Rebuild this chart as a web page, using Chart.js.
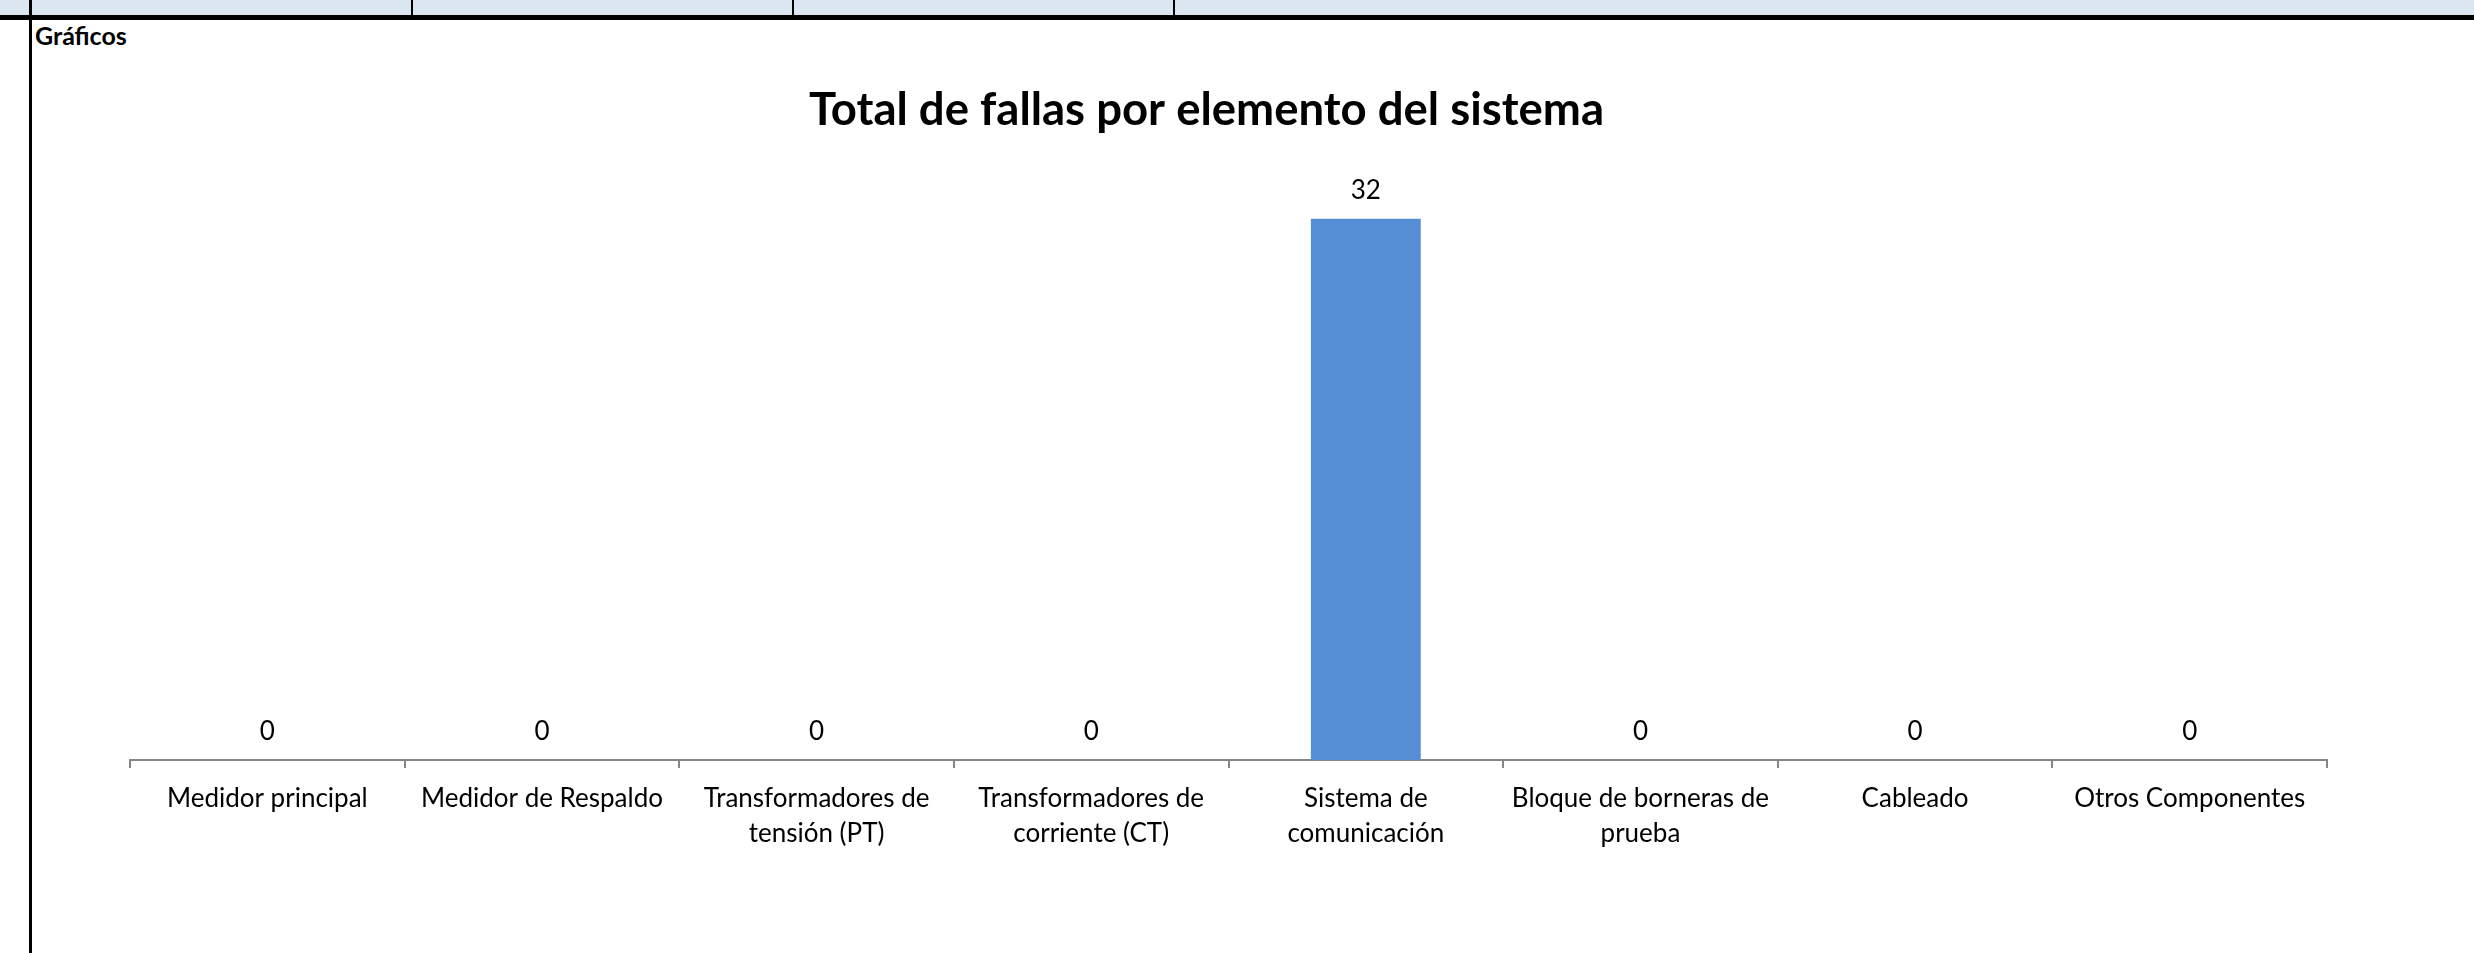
<!DOCTYPE html>
<html>
<head>
<meta charset="utf-8">
<script src="https://cdn.jsdelivr.net/npm/chart.js@4.4.1/dist/chart.umd.min.js"></script>
<style>
  html, body { margin: 0; padding: 0; background: #ffffff; width: 2474px; height: 953px; overflow: hidden; }
  #band { position: absolute; left: 0; top: 0; width: 2474px; height: 15px; background: #dce6f1; }
  #hline { position: absolute; left: 0; top: 15px; width: 2474px; height: 5px; background: #000; }
  .v { position: absolute; top: 0; width: 2px; height: 15px; background: #000; }
  #vleft { position: absolute; left: 29px; top: 0; width: 3px; height: 953px; background: #000; }
  #sheetLabel { position: absolute; left: 35px; top: 23px; font: bold 25px Lato, sans-serif; line-height: 25px; color: #000; white-space: nowrap; }
  #chart { position: absolute; left: 0; top: 0; }
</style>
</head>
<body>
<div id="band"></div>
<div class="v" style="left:411px"></div>
<div class="v" style="left:792px"></div>
<div class="v" style="left:1173px"></div>
<div id="hline"></div>
<div id="vleft"></div>
<div id="sheetLabel">Gráficos</div>
<canvas id="chart" width="2474" height="953"></canvas>
<script>
// ---- data ----
const chartTitle = "Total de fallas por elemento del sistema";
const categories = [
  "Medidor principal",
  "Medidor de Respaldo",
  ["Transformadores de", "tensión (PT)"],
  ["Transformadores de", "corriente (CT)"],
  ["Sistema de", "comunicación"],
  ["Bloque de borneras de", "prueba"],
  "Cableado",
  "Otros Componentes"
];
const fallas = [0, 0, 0, 0, 32, 0, 0, 0];
const yMin = 0;
const yMax = 35;

// ---- value labels drawn from the bar elements ----
const valueLabels = {
  id: 'valueLabels',
  afterDatasetsDraw(chart) {
    const ctx = chart.ctx;
    const meta = chart.getDatasetMeta(0);
    const values = chart.data.datasets[0].data;
    ctx.save();
    ctx.font = '26px Lato, sans-serif';
    ctx.fillStyle = '#000000';
    ctx.textAlign = 'center';
    ctx.textBaseline = 'middle';
    meta.data.forEach((bar, i) => {
      ctx.fillText(String(values[i]), bar.x, bar.y - 28);
    });
    ctx.restore();
  }
};

new Chart(document.getElementById('chart'), {
  type: 'bar',
  data: {
    labels: categories,
    datasets: [{
      data: fallas,
      backgroundColor: '#558ED5',
      borderWidth: 0,
      barPercentage: 0.4,
      categoryPercentage: 1.0
    }]
  },
  options: {
    responsive: false,
    animation: false,
    devicePixelRatio: 1,
    layout: { padding: { left: 86, right: 147, top: 0, bottom: 0 } },
    plugins: {
      legend: { display: false },
      tooltip: { enabled: false },
      title: {
        display: true,
        text: chartTitle,
        color: '#000000',
        font: { family: 'Lato', size: 45.5, weight: 'bold', lineHeight: 1.2 },
        padding: { top: 83, bottom: 30.4 }
      }
    },
    scales: {
      x: {
        type: 'category',
        offset: true,
        grid: {
          display: true,
          offset: true,
          drawOnChartArea: false,
          drawTicks: true,
          tickLength: 8,
          color: '#868686',
          lineWidth: 2
        },
        border: { display: true, color: '#868686', width: 2 },
        ticks: {
          color: '#000000',
          font: { family: 'Lato', size: 26, lineHeight: 35 / 26 },
          padding: 13,
          maxRotation: 0,
          minRotation: 0,
          autoSkip: false
        },
        afterFit(scale) { scale.height = 193; }
      },
      y: {
        display: true,
        min: yMin,
        max: yMax,
        grid: { display: false, drawTicks: false },
        border: { display: false },
        ticks: { display: false },
        afterFit(scale) { scale.width = 44; }
      }
    }
  },
  plugins: [valueLabels]
});
</script>
</body>
</html>
